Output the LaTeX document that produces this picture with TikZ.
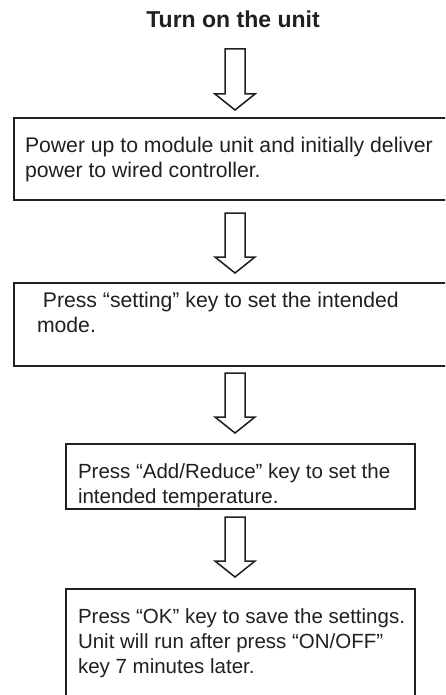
\documentclass[tikz,border=0pt]{standalone}
\usepackage{fontspec}
\setmainfont{Liberation Sans}
\usetikzlibrary{calc}
\definecolor{ink}{RGB}{35,31,32}
\begin{document}
\begin{tikzpicture}[x=1pt,y=-1pt,
  every node/.style={inner sep=0pt,outer sep=0pt,text=ink},
  box/.style={draw=ink,line width=2.2pt,rectangle,anchor=north west},
  txt/.style={anchor=base west,align=left,font=\fontsize{21.2}{25}\selectfont},
  txtsmall/.style={txt,font=\fontsize{20.5}{25}\selectfont},
  hollow/.style={draw=ink,line width=1.5pt,line join=miter,fill=white,
    to path={let \p1=(\tikztostart),\p2=(\tikztotarget) in
      (\x1-10pt,\y1) -- (\x1+10pt,\y1) -- (\x1+10pt,\y2+16pt) -- (\x1+20pt,\y2+16pt)
      -- (\x1,\y2) -- (\x1-20pt,\y2+16pt) -- (\x1-10pt,\y2+16pt) -- cycle}}
]
\useasboundingbox (0,0) rectangle (445,695);
\clip (0,0) rectangle (445,695);
\fill[white] (0,0) rectangle (445,695);

\node[font=\fontsize{23}{28}\selectfont\bfseries,anchor=base] (title) at (233,28) {Turn on the unit};

% text nodes: base anchor is the baseline of the last line
\node[box,minimum width=446pt,minimum height=82pt] (b1) at (14,118) {};
\node[txt] (t1) at (25,178) {Power up to module unit and initially deliver\\power to wired controller.};

\node[box,minimum width=446pt,minimum height=83pt] (b2) at (14,283) {};
\node[txt] (t2) at (37,332) {\hspace*{0.278em}Press “setting” key to set the intended\\mode.};

\node[box,minimum width=349pt,minimum height=65pt] (b3) at (66,444) {};
\node[txtsmall] (t3) at (78,503) {Press “Add/Reduce” key to set the\\intended temperature.};

\node[box,minimum width=349pt,minimum height=130pt] (b4) at (66,589) {};
\node[txtsmall] (t4) at (78,673) {Press “OK” key to save the settings.\\Unit will run after press “ON/OFF”\\key 7 minutes later.};

\coordinate (a1s) at (235,49);  \coordinate (a1e) at (235,110);
\coordinate (a2s) at (235,213); \coordinate (a2e) at (235,273);
\coordinate (a3s) at (235,373); \coordinate (a3e) at (235,433);
\coordinate (a4s) at (235,517); \coordinate (a4e) at (235,577);
\draw[hollow] (a1s) to (a1e);
\draw[hollow] (a2s) to (a2e);
\draw[hollow] (a3s) to (a3e);
\draw[hollow] (a4s) to (a4e);
\end{tikzpicture}
\end{document}
